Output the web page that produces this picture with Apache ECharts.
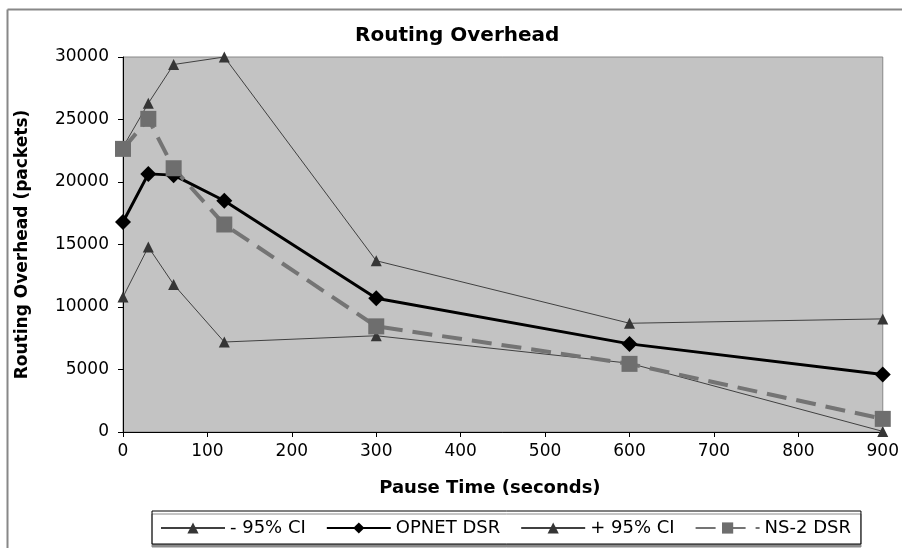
<!DOCTYPE html>
<html>
<head>
<meta charset="utf-8">
<script src="https://cdn.jsdelivr.net/npm/echarts@6/dist/echarts.min.js"></script>
<style>
  html, body { margin: 0; padding: 0; background: #fff; overflow: hidden; }
  #chart { width: 902px; height: 548px; }
</style>
</head>
<body>
<div id="chart"></div>
<script>
  // pause times (seconds)
  var pauseTimes = [0, 30, 60, 120, 300, 600, 900];
  var lowerCI = [10800, 14800, 11800, 7200, 7700, 5500, 50];
  var opnetDsr = [16800, 20650, 20550, 18500, 10700, 7050, 4600];
  var upperCI = [22800, 26300, 29400, 30000, 13700, 8700, 9050];
  var ns2Dsr = [22650, 25050, 21100, 16600, 8450, 5450, 1050];

  var seriesNames = ['- 95% CI', 'OPNET DSR', '+ 95% CI', 'NS-2 DSR'];

  function pairs(vals) {
    return pauseTimes.map(function (t, i) { return [t, vals[i]]; });
  }

  var chart = echarts.init(document.getElementById('chart'));
  var font = 'DejaVu Sans, sans-serif';

  var option = {
    animation: false,
    backgroundColor: '#ffffff',
    textStyle: { fontFamily: font },
    title: {
      text: 'Routing Overhead',
      left: 350,
      top: 21,
      textStyle: { fontSize: 20, fontWeight: 'bold', color: '#000', fontFamily: font }
    },
    // outer chart frame: only its top and left edges are in the picture
    graphic: [
      {
        type: 'line',
        shape: { x1: 7.5, y1: 9.5, x2: 902, y2: 9.5 },
        style: { stroke: '#888', lineWidth: 2 },
        silent: true
      },
      {
        type: 'line',
        shape: { x1: 7.5, y1: 9.5, x2: 7.5, y2: 548 },
        style: { stroke: '#888', lineWidth: 2 },
        silent: true
      }
    ],
    grid: {
      left: 123, right: 19, top: 57, bottom: 116,
      show: true,
      backgroundColor: '#c3c3c3',
      borderColor: '#888',
      borderWidth: 1
    },
    legend: {
      data: seriesNames,
      left: 152,
      top: 511,
      padding: [8, 10, 7, 8],
      itemGap: 20,
      itemWidth: 64,
      itemHeight: 14,
      backgroundColor: '#fff',
      borderColor: '#000',
      borderWidth: 1,
      shadowColor: '#8a8a8a',
      shadowOffsetY: 3,
      shadowOffsetX: 0,
      shadowBlur: 0,
      textStyle: { fontSize: 18, color: '#000', fontFamily: font }
    },
    xAxis: {
      type: 'value',
      min: 0, max: 900, interval: 100,
      name: 'Pause Time (seconds)',
      nameLocation: 'middle',
      nameGap: 47,
      nameTextStyle: { fontSize: 18, fontWeight: 'bold', color: '#000', fontFamily: font, padding: [0, 26, 0, 0] },
      axisLine: { show: true, lineStyle: { color: '#000', width: 1 } },
      axisTick: { show: true, length: 5, lineStyle: { color: '#000' } },
      axisLabel: { fontSize: 17, color: '#000', margin: 11 },
      splitLine: { show: false }
    },
    yAxis: {
      type: 'value',
      min: 0, max: 30000, interval: 5000,
      name: 'Routing Overhead (packets)',
      nameLocation: 'middle',
      nameGap: 92,
      nameTextStyle: { fontSize: 17, fontWeight: 'bold', color: '#000', fontFamily: font },
      axisLine: { show: true, lineStyle: { color: '#000', width: 1 } },
      axisTick: { show: true, length: 5, lineStyle: { color: '#000' } },
      axisLabel: { fontSize: 17, color: '#000', margin: 14, formatter: function (v) { return String(v); } },
      splitLine: { show: false }
    },
    series: [
      {
        name: seriesNames[0], type: 'line', data: pairs(lowerCI),
        symbol: 'triangle', symbolSize: 11,
        lineStyle: { color: '#404040', width: 1 },
        itemStyle: { color: '#353535' }
      },
      {
        name: seriesNames[1], type: 'line', data: pairs(opnetDsr),
        symbol: 'diamond', symbolSize: 16,
        lineStyle: { color: '#000', width: 3 },
        itemStyle: { color: '#000' }
      },
      {
        name: seriesNames[2], type: 'line', data: pairs(upperCI),
        symbol: 'triangle', symbolSize: 11,
        lineStyle: { color: '#404040', width: 1 },
        itemStyle: { color: '#353535' }
      },
      {
        name: seriesNames[3], type: 'line', data: pairs(ns2Dsr),
        symbol: 'rect', symbolSize: 16,
        lineStyle: { color: '#747474', width: 4, type: [20, 10] },
        itemStyle: { color: '#6e6e6e' }
      }
    ]
  };

  chart.setOption(option);
</script>
</body>
</html>
